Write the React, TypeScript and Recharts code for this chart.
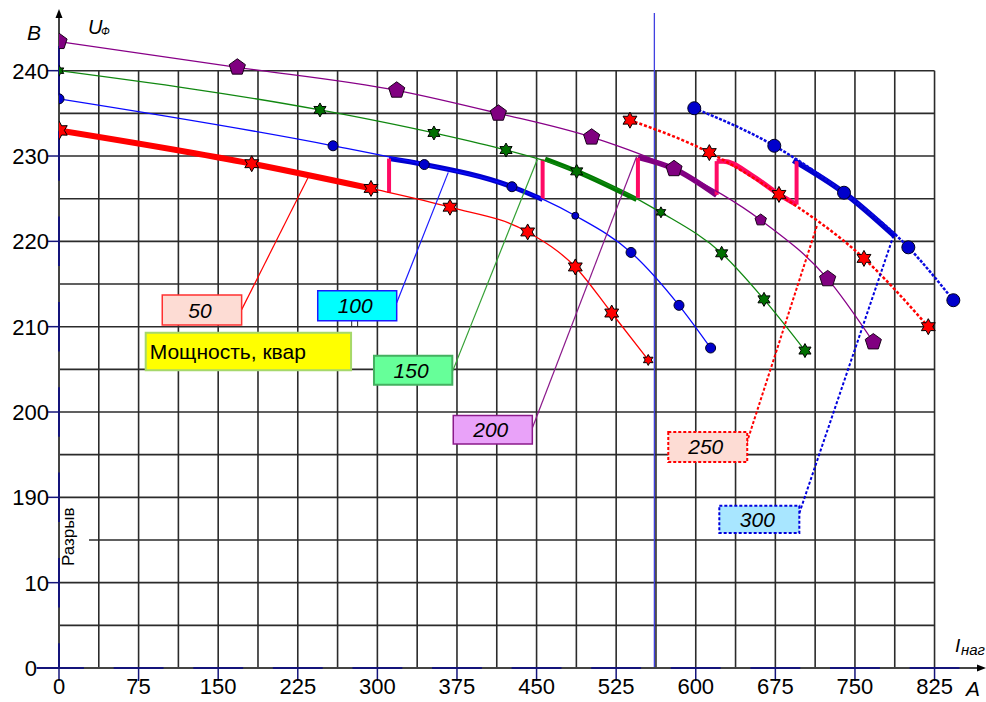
import React from 'react';
import { LineChart, Line, XAxis, YAxis, ReferenceLine, ReferenceArea } from 'recharts';

const FONT = '"Liberation Sans", Arial, Helvetica, sans-serif';

// ---------------- data ----------------
// load current, A (x axis)
const xTicks = [0, 75, 150, 225, 300, 375, 450, 525, 600, 675, 750, 825];
// phase voltage, V (broken y axis: 0, 10 | break | 190 ... 240)
const yTickLabels = [0, 10, 190, 200, 210, 220, 230, 240];

// curves U(I) for compensation power, kvar
const kvar50 = [
  { i: 0, u: 233.0 }, { i: 181.6, u: 229.1 }, { i: 294, u: 226.2 }, { i: 368.4, u: 224.0 },
  { i: 441.6, u: 221.1 }, { i: 486.5, u: 217.0 }, { i: 520.8, u: 211.6 }, { i: 555.2, u: 206.1 },
];
const kvar100 = [
  { i: 0, u: 236.7 }, { i: 258.2, u: 231.2 }, { i: 344.2, u: 229.0 }, { i: 426.8, u: 226.4 },
  { i: 486.5, u: 223.0 }, { i: 539, u: 218.7 }, { i: 584.2, u: 212.5 }, { i: 614, u: 207.5 },
];
const kvar150 = [
  { i: 0, u: 240.0 }, { i: 245.9, u: 235.4 }, { i: 353.3, u: 232.7 }, { i: 421.2, u: 230.7 },
  { i: 487.8, u: 228.2 }, { i: 567.2, u: 223.4 }, { i: 624.4, u: 218.6 }, { i: 664.3, u: 213.2 },
  { i: 702.9, u: 207.2 },
];
const kvar200 = [
  { i: 0, u: 243.4 }, { i: 168, u: 240.4 }, { i: 318.2, u: 237.7 }, { i: 414, u: 235.0 },
  { i: 501.9, u: 232.2 }, { i: 579.5, u: 228.5 }, { i: 661.2, u: 222.5 }, { i: 724.3, u: 215.6 },
  { i: 767.3, u: 208.2 },
];
const kvar250 = [
  { i: 538, u: 234.2 }, { i: 612.8, u: 230.4 }, { i: 678.4, u: 225.5 }, { i: 758.5, u: 218.0 },
  { i: 819.1, u: 210.0 },
];
const kvar300 = [
  { i: 598.6, u: 235.6 }, { i: 674, u: 231.2 }, { i: 739.7, u: 225.7 }, { i: 800.3, u: 219.3 },
  { i: 842.7, u: 213.1 },
];

// working (regulated) ranges, drawn bold
const work50 = [{ i: 0, u: 233.0 }, { i: 181.6, u: 229.1 }, { i: 294, u: 226.2 }];
const work100 = [{ i: 311, u: 229.7 }, { i: 344.2, u: 229.0 }, { i: 426.8, u: 226.4 }, { i: 455.7, u: 224.9 }];
const work150 = [{ i: 458, u: 229.65 }, { i: 487.8, u: 228.2 }, { i: 544.3, u: 224.9 }];
const work200 = [{ i: 545.6, u: 229.85 }, { i: 579.5, u: 228.5 }, { i: 619.7, u: 225.4 }];
const work250 = [{ i: 619.7, u: 229.4 }, { i: 626, u: 229.4 }, { i: 652, u: 227.8 }, { i: 678.4, u: 225.5 }, { i: 695, u: 224.3 }];
const work300 = [{ i: 692, u: 229.5 }, { i: 739.7, u: 225.7 }, { i: 787.6, u: 220.6 }];

// switching currents (step change of capacitor bank)
const switchCurrents = [311, 455.7, 545.5, 619.7, 695];
const switchLow = [225.7, 224.9, 225.1, 225.45, 224.3];
const switchHigh = [229.7, 229.6, 229.8, 229.4, 229.4];

const markerCurrent = 561; // vertical reference line

// ---------------- helpers ----------------
const BREAK_SHIFT = 170;
const toY = (u: number) => (u >= 100 ? u - BREAK_SHIFT : u);
const fromY = (y: number) => (y > 10 ? y + BREAK_SHIFT : y);
const yVal = (d: any) => toY(d.u);

const X_MAX = 871.6;
const Y_MAX = 76.76;

function polyPoints(n: number, cx: number, cy: number, r: number, inner: number) {
  const pts: string[] = [];
  for (let k = 0; k < n; k++) {
    const ang = -Math.PI / 2 + (k * 2 * Math.PI) / n;
    const rr = inner > 0 && k % 2 === 1 ? r * inner : r;
    pts.push(`${(cx + rr * Math.cos(ang)).toFixed(2)},${(cy + rr * Math.sin(ang)).toFixed(2)}`);
  }
  return pts.join(' ');
}

function makeDot(kind: string, fill: string, r: number, small: number[], smallR: number, big: number[], bigR: number) {
  return (p: any) => {
    const key = `m-${p.index}`;
    if (p.cx == null || p.cy == null) return <g key={key} />;
    const rr = small.includes(p.index) ? smallR : big.includes(p.index) ? bigR : r;
    if (kind === 'circle')
      return <circle key={key} cx={p.cx} cy={p.cy} r={rr} fill={fill} stroke="#000022" strokeWidth={1} />;
    if (kind === 'pent')
      return <polygon key={key} points={polyPoints(5, p.cx, p.cy, rr, 0)} fill={fill} stroke="#1a001a" strokeWidth={1} />;
    return <polygon key={key} points={polyPoints(12, p.cx, p.cy, rr, 0.56)} fill={fill} stroke="#000" strokeWidth={1} />;
  };
}

const XTick = (props: any) => {
  const { x, y, payload } = props;
  return (
    <text x={x} y={y + 13} textAnchor="middle" fontSize={22} fontFamily={FONT} fill="#000">
      {payload.value}
    </text>
  );
};
const YTick = (props: any) => {
  const { x, y, payload } = props;
  const v = fromY(payload.value);
  return (
    <text x={v === 0 ? x - 10 : x + 2} y={y + 8} textAnchor="end" fontSize={22} fontFamily={FONT} fill="#000">
      {v}
    </text>
  );
};

const boxLabel = (text: string, italic: boolean, start: boolean) => (props: any) => {
  const vb = props.viewBox || {};
  const { x = 0, y = 0, width = 0, height = 0 } = vb;
  return (
    <text
      x={start ? x + 4 : x + width / 2 - 2}
      y={y + height / 2 + 7.5}
      textAnchor={start ? 'start' : 'middle'}
      fontSize={21}
      fontStyle={italic ? 'italic' : 'normal'}
      fontFamily={FONT}
      fill="#000"
    >
      {text}
    </text>
  );
};

const thinSeries = [
  { key: 'k50', data: kvar50, color: '#ff0000', dash: undefined, w: 1.3, kind: 'star', fill: '#ff0000', r: 8, small: [7], sr: 5.5, big: [0], br: 9.5 },
  { key: 'k100', data: kvar100, color: '#0a0aff', dash: undefined, w: 1.3, kind: 'circle', fill: '#0000cc', r: 5, small: [4], sr: 3.5, big: [], br: 5 },
  { key: 'k150', data: kvar150, color: '#118811', dash: undefined, w: 1.3, kind: 'star', fill: '#007000', r: 7, small: [0, 5], sr: 5.5, big: [], br: 7 },
  { key: 'k200', data: kvar200, color: '#880088', dash: undefined, w: 1.3, kind: 'pent', fill: '#800080', r: 8.5, small: [6], sr: 6, big: [], br: 8.5 },
  { key: 'k250', data: kvar250, color: '#ff0000', dash: '3 2', w: 2.5, kind: 'star', fill: '#ff0000', r: 8, small: [], sr: 8, big: [], br: 8 },
  { key: 'k300', data: kvar300, color: '#0a0ae0', dash: '3 1.5', w: 2.5, kind: 'circle', fill: '#0000cc', r: 6.5, small: [], sr: 6.5, big: [], br: 6.5 },
];

const thickSeries = [
  { key: 'w50', data: work50, color: '#ff0000', w: 6 },
  { key: 'w100', data: work100, color: '#0000cc', w: 5 },
  { key: 'w150', data: work150, color: '#007a00', w: 5 },
  { key: 'w200', data: work200, color: '#800080', w: 5.5 },
  { key: 'w250', data: work250, color: '#ff0a64', w: 5 },
  { key: 'w300', data: work300, color: '#0000cc', w: 5.5 },
];

const callouts = [
  { text: '50', x1: 97.3, x2: 172.1, u1: 210.2, u2: 213.7, fill: '#fddcd4', stroke: '#ff3030', dash: undefined, sw: 1.5, line: '#ff0000', a: [172.1, 212.0], b: [234.6, 227.45] },
  { text: '100', x1: 243.8, x2: 318.2, u1: 210.7, u2: 214.2, fill: '#00ffff', stroke: '#1a1aff', dash: undefined, sw: 1.5, line: '#1a1aff', a: [318.2, 212.8], b: [366.8, 228.08] },
  { text: '150', x1: 296.8, x2: 370.6, u1: 203.2, u2: 206.6, fill: '#66ff99', stroke: '#44b060', dash: undefined, sw: 2, line: '#33a033', a: [370.6, 204.7], b: [450.6, 229.57] },
  { text: '200', x1: 371.5, x2: 446, u1: 196.25, u2: 199.6, fill: '#e9a2f9', stroke: '#8b1a8b', dash: undefined, sw: 1.5, line: '#8b1a8b', a: [446, 198.13], b: [544.3, 229.95] },
  { text: '250', x1: 574.1, x2: 648.5, u1: 194.14, u2: 197.66, fill: '#fddcd4', stroke: '#ff0000', dash: '3 2', sw: 2, line: '#ff0000', a: [648, 196.37], b: [714.5, 221.95] },
  { text: '300', x1: 622.2, x2: 697.6, u1: 185.82, u2: 189.02, fill: '#a8e6ff', stroke: '#0000dd', dash: '3 2', sw: 2, line: '#0000dd', a: [697.6, 188.16], b: [786.1, 220.58] },
];

const gridX = Array.from({ length: 22 }, (_, k) => (k + 1) * 37.5);
const gridY = Array.from({ length: 14 }, (_, k) => (k + 1) * 5);
const GRID = '#2b2b2b';
const NAVY = '#14147a';

export default function App() {
  const zGrid: any = { zIndex: -100 };
  const zTop: any = { zIndex: 700 };
  const zLead: any = { zIndex: 650 };
  return (
    <div style={{ position: 'fixed', left: 0, top: 0, width: 986, height: 702, overflow: 'hidden', background: '#fff', fontFamily: FONT }}>
      <LineChart width={986} height={702} margin={{ top: 13, right: 2, bottom: 4, left: 14 }}>
        <XAxis
          type="number"
          dataKey="i"
          domain={[0, X_MAX]}
          allowDataOverflow
          ticks={xTicks}
          interval={0}
          height={30}
          axisLine={false}
          tickLine={{ stroke: NAVY, strokeWidth: 1.5 }}
          tickSize={13}
          tickMargin={0}
          tick={<XTick />}
        />
        <YAxis
          type="number"
          domain={[0, Y_MAX]}
          allowDataOverflow
          ticks={yTickLabels.map(toY)}
          interval={0}
          width={45}
          axisLine={false}
          tickLine={{ stroke: NAVY, strokeWidth: 1.5 }}
          tickSize={12}
          tickMargin={0}
          tick={<YTick />}
        />

        {/* grid */}
        {gridX.map((gx) => (
          <ReferenceLine key={`gx${gx}`} {...zGrid} segment={[{ x: gx, y: 0 }, { x: gx, y: 70 }]} stroke={GRID} strokeWidth={1.6} ifOverflow="visible" />
        ))}
        {gridY.map((gy) => (
          <ReferenceLine key={`gy${gy}`} {...zGrid} segment={[{ x: gy === 15 ? 28.3 : 0, y: gy }, { x: 825, y: gy }]} stroke={GRID} strokeWidth={1.6} ifOverflow="visible" />
        ))}

        <ReferenceLine x={markerCurrent} {...zGrid} stroke="#4040e0" strokeWidth={1.3} />

        {/* axes lines */}
        <ReferenceLine {...zGrid} segment={[{ x: -21, y: 0 }, { x: 866, y: 0 }]} stroke="#444" strokeWidth={2} ifOverflow="visible" />
        <ReferenceLine {...zGrid} segment={[{ x: 0, y: 0 }, { x: 0, y: 76.5 }]} stroke="#444" strokeWidth={2} ifOverflow="visible" />
        {xTicks.map((t) => (
          <ReferenceLine key={`ax${t}`} {...zGrid} segment={[{ x: Math.max(t - 23.5, -21), y: 0 }, { x: t + 23.5, y: 0 }]} stroke={NAVY} strokeWidth={2} ifOverflow="visible" />
        ))}
        {yTickLabels.map(toY).map((t) => (
          <ReferenceLine key={`ay${t}`} {...zGrid} segment={[{ x: 0, y: Math.max(t - 2.9, 0) }, { x: 0, y: t + 2.9 }]} stroke={NAVY} strokeWidth={2} ifOverflow="visible" />
        ))}

        {/* callouts */}
        {callouts.map((c) => (
          <ReferenceLine
            key={`l${c.text}`}
            {...zLead}
            segment={[{ x: c.a[0], y: toY(c.a[1]) }, { x: c.b[0], y: toY(c.b[1]) }]}
            stroke={c.line}
            strokeWidth={c.dash ? 2 : 1.2}
            strokeDasharray={c.dash}
            ifOverflow="visible"
          />
        ))}
        <ReferenceLine {...zLead} segment={[{ x: 275.8, y: toY(210.7) }, { x: 275.8, y: toY(210.0) }]} stroke="#222" strokeWidth={1} />
        <ReferenceLine {...zLead} segment={[{ x: 281.4, y: toY(210.7) }, { x: 281.4, y: toY(210.0) }]} stroke="#222" strokeWidth={1} />
        {callouts.map((c) => (
          <ReferenceArea
            key={`b${c.text}`}
            {...zTop}
            x1={c.x1}
            x2={c.x2}
            y1={toY(c.u1)}
            y2={toY(c.u2)}
            fill={c.fill}
            fillOpacity={1}
            stroke={c.stroke}
            strokeWidth={c.sw}
            strokeDasharray={c.dash}
            ifOverflow="visible"
            label={{ content: boxLabel(c.text, true, false) }}
          />
        ))}
        <ReferenceArea
          {...zTop}
          x1={81.7}
          x2={275.2}
          y1={toY(204.9)}
          y2={toY(209.3)}
          fill="#ffff00"
          fillOpacity={1}
          stroke="#a6d86b"
          strokeWidth={2}
          ifOverflow="visible"
          label={{ content: boxLabel('Мощность, квар', false, true) }}
        />

        {/* working ranges */}
        {thickSeries.map((s) => (
          <Line
            key={s.key}
            data={s.data}
            dataKey={yVal}
            type="monotone"
            stroke={s.color}
            strokeWidth={s.w}
            dot={false}
            activeDot={false}
            isAnimationActive={false}
          />
        ))}

        {/* switching steps */}
        {switchCurrents.map((c, k) => (
          <Line
            key={`sw${k}`}
            data={[{ i: c, u: switchLow[k] }, { i: c, u: switchHigh[k] }]}
            dataKey={yVal}
            type="linear"
            stroke="#ff0a64"
            strokeWidth={4}
            dot={false}
            activeDot={false}
            isAnimationActive={false}
          />
        ))}

        {/* curves */}
        {thinSeries.map((s) => (
          <Line
            key={s.key}
            data={s.data}
            dataKey={yVal}
            type="monotone"
            stroke={s.color}
            strokeWidth={s.w}
            strokeDasharray={s.dash}
            dot={makeDot(s.kind, s.fill, s.r, s.small, s.sr, s.big, s.br)}
            activeDot={false}
            isAnimationActive={false}
          />
        ))}
      </LineChart>

      <svg width={986} height={702} style={{ position: 'absolute', left: 0, top: 0, pointerEvents: 'none' }}>
        <polygon points="59,9 55.5,18 62.5,18" fill="#000" />
        <polygon points="986,668 977,664.5 977,671.5" fill="#000" />
        <text x={27} y={40} fontSize={21} fontStyle="italic" fontFamily={FONT} fill="#000">B</text>
        <text x={88} y={33.5} fontSize={20} fontStyle="italic" fontFamily={FONT} fill="#000">U</text>
        <text x={101} y={35} fontSize={11} fontStyle="italic" fontFamily={FONT} fill="#000">Ф</text>
        <text x={955} y={652} fontSize={19} fontStyle="italic" fontFamily={FONT} fill="#000">I</text>
        <text x={961} y={655} fontSize={15} fontStyle="italic" fontFamily={FONT} fill="#000">наг</text>
        <text x={966} y={696} fontSize={21} fontStyle="italic" fontFamily={FONT} fill="#000">A</text>
        <text x={74} y={536.7} fontSize={17} fontFamily={FONT} fill="#000" textAnchor="middle" transform="rotate(-90 74 536.7)">Разрыв</text>
      </svg>
    </div>
  );
}
